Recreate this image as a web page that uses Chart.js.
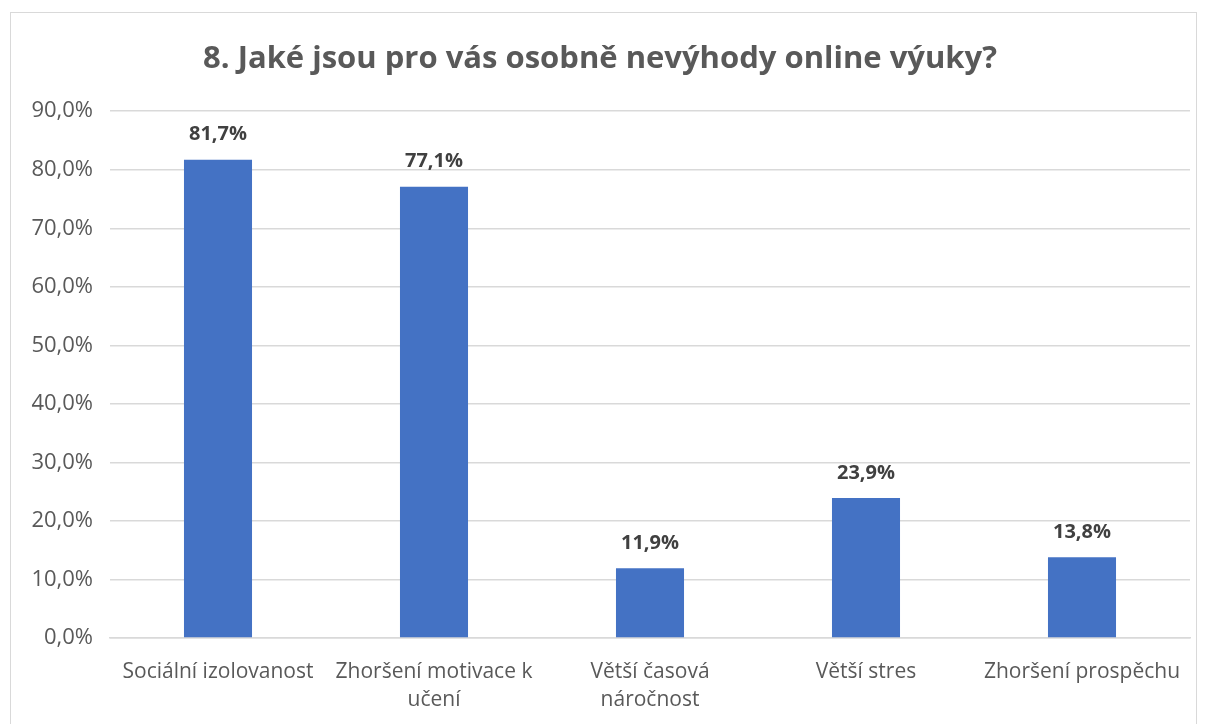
<!DOCTYPE html>
<html><head><meta charset="utf-8">
<script src="https://cdn.jsdelivr.net/npm/chart.js@4"></script>
<style>
html,body{margin:0;padding:0;background:#fff;}
#wrap{position:relative;width:1209px;height:724px;}
#frame{position:absolute;left:10px;top:12px;width:1187px;height:720px;border:1.5px solid #d9d9d9;box-sizing:border-box;pointer-events:none;}
canvas{position:absolute;left:0;top:0;}
</style></head>
<body>
<div id="wrap"><canvas id="c" width="1209" height="724"></canvas><div id="frame"></div></div>
<script>
const categories = [["Sociální izolovanost"], ["Zhoršení motivace k", "učení"], ["Větší časová", "náročnost"], ["Větší stres"], ["Zhoršení prospěchu"]];
const values = [81.7, 77.1, 11.9, 23.9, 13.8];
const titleText = "8. Jaké jsou pro vás osobně nevýhody online výuky?";
const FONT = "'Open Sans', sans-serif";
const fmt = v => v.toFixed(1).replace('.', ',') + '%';

const labelPlugin = {
  id: 'valLabels',
  afterDatasetsDraw(chart) {
    const ctx = chart.ctx;
    const meta = chart.getDatasetMeta(0);
    ctx.save();
    ctx.font = "bold 20px " + FONT;
    ctx.fillStyle = '#404040';
    ctx.textAlign = 'center';
    ctx.textBaseline = 'middle';
    meta.data.forEach((bar, i) => {
      ctx.fillText(fmt(values[i]), bar.x, bar.y - 25);
    });
    ctx.restore();
  }
};

new Chart(document.getElementById('c'), {
  type: 'bar',
  data: {
    labels: categories,
    datasets: [{ data: values, backgroundColor: '#4472C4', borderWidth: 0,
      categoryPercentage: 1, barPercentage: 0.315 }]
  },
  options: {
    responsive: false,
    animation: false,
    devicePixelRatio: 1,
    layout: { padding: { left: 10, right: 19, top: 12, bottom: 0 } },
    plugins: {
      legend: { display: false },
      tooltip: { enabled: false },
      title: { display: true, text: titleText, color: '#595959',
        font: { family: FONT, size: 31, weight: 'bold' }, padding: { top: 29, bottom: 33 } }
    },
    scales: {
      y: {
        min: 0, max: 90,
        ticks: { stepSize: 10, callback: v => fmt(v), color: '#595959',
          font: { family: FONT, size: 22 }, padding: 17 },
        grid: { color: '#d9d9d9', lineWidth: 1.5, drawTicks: false },
        border: { display: false },
        afterFit: s => { s.width = 100; }
      },
      x: {
        ticks: { color: '#595959', font: { family: FONT, size: 21, lineHeight: 1.33 }, padding: 20, maxRotation: 0, autoSkip: false },
        grid: { display: false, drawTicks: false },
        border: { color: '#d9d9d9', width: 1.5 },
        afterFit: s => { s.height = 86; }
      }
    }
  },
  plugins: [labelPlugin]
});
</script>
</body></html>
